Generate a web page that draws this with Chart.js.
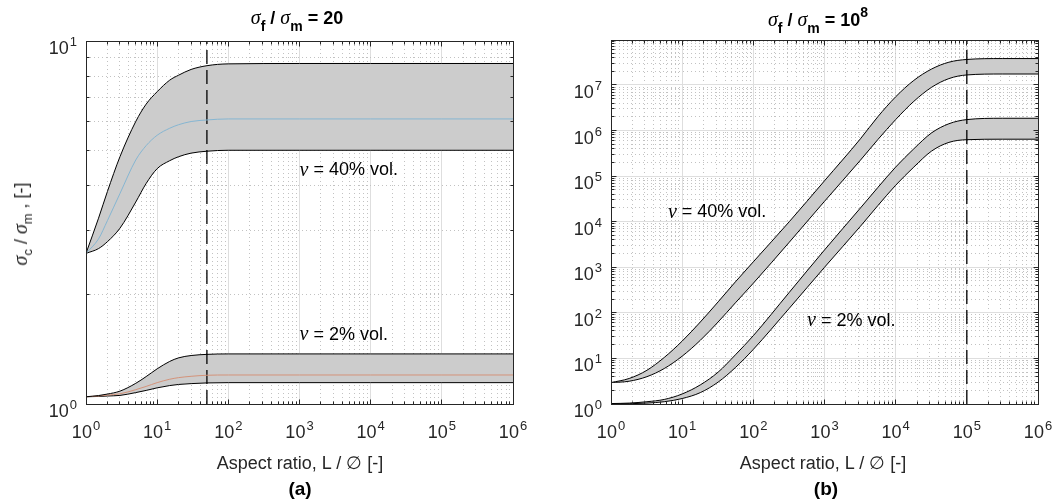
<!DOCTYPE html>
<html>
<head>
<meta charset="utf-8">
<script src="https://cdn.jsdelivr.net/npm/chart.js@4.4.1/dist/chart.umd.min.js"></script>
<style>
html,body{margin:0;padding:0;background:#fff;}
#wrap{position:relative;width:1060px;height:502px;overflow:hidden;font-family:"Liberation Sans",Arial,sans-serif;color:#262626;}
canvas{position:absolute;top:0;}
.lbl{position:absolute;white-space:nowrap;transform:translate(-50%,-50%);line-height:1;}
.title{font-weight:bold;font-size:18px;color:#000;}
.sg{font-family:"Liberation Serif","DejaVu Serif",serif;font-style:italic;font-weight:normal;font-size:20px;}
.title sub{font-size:14px;vertical-align:-7px;}
.title sup{font-size:14px;vertical-align:9px;}
.axl{font-size:18px;}
.axl sub{font-size:13px;vertical-align:-5px;}
.yl{transform:translate(-50%,-50%) rotate(-90deg);}
.pl{font-weight:bold;font-size:19px;color:#000;}
</style>
</head>
<body>
<div id="wrap">
  <canvas id="ca" width="530" height="502" style="left:0;width:530px;height:502px"></canvas>
  <canvas id="cb" width="530" height="502" style="left:530px;width:530px;height:502px"></canvas>
  <div class="lbl title" style="left:297px;top:20px"><span class="sg">σ</span><sub>f</sub> / <span class="sg">σ</span><sub>m</sub> = 20</div>
  <div class="lbl title" style="left:818px;top:20px"><span class="sg">σ</span><sub>f</sub> / <span class="sg">σ</span><sub>m</sub> = 10<sup>8</sup></div>
  <div class="lbl axl yl" style="left:22px;top:224px"><span class="sg">σ</span><sub>c</sub> / <span class="sg">σ</span><sub>m</sub> , [-]</div>
  <div class="lbl axl" style="left:300px;top:463px">Aspect ratio, L / ∅ [-]</div>
  <div class="lbl axl" style="left:823px;top:463px">Aspect ratio, L / ∅ [-]</div>
  <div class="lbl pl" style="left:300px;top:488px">(a)</div>
  <div class="lbl pl" style="left:826px;top:488px">(b)</div>
</div>
<script>
// ---------- tick labels (base and exponent) ----------
const xMajor = [1, 10, 100, 1e3, 1e4, 1e5, 1e6];
const xMajorExp = ['0', '1', '2', '3', '4', '5', '6'];
const yMajorA = [1, 10];
const yMajorExpA = ['0', '1'];
const yMajorB = [1, 10, 100, 1e3, 1e4, 1e5, 1e6, 1e7];
const yMajorExpB = ['0', '1', '2', '3', '4', '5', '6', '7'];
const tickBase = '10';
const minorMult = [2, 3, 4, 5, 6, 7, 8, 9];

// ---------- (a) sigma_f / sigma_m = 20 ----------
const aspectA  = [1, 1.5, 2, 3, 5, 7, 10, 15, 20, 30, 50, 100, 1e3, 1e4, 1e5, 1e6];
const a40Upper = [2.6, 3.25, 3.85, 4.8, 6.0, 6.7, 7.25, 7.8, 8.05, 8.35, 8.55, 8.65, 8.67, 8.67, 8.67, 8.67];
const a40Mid   = [2.6, 2.85, 3.2, 3.8, 4.7, 5.15, 5.5, 5.75, 5.88, 6.0, 6.06, 6.1, 6.1, 6.1, 6.1, 6.1];
const a40Lower = [2.6, 2.68, 2.8, 3.05, 3.6, 4.05, 4.45, 4.68, 4.8, 4.91, 4.97, 5.0, 5.0, 5.0, 5.0, 5.0];
const a2Upper  = [1.047, 1.055, 1.065, 1.085, 1.14, 1.19, 1.25, 1.31, 1.34, 1.36, 1.37, 1.374, 1.374, 1.374, 1.374, 1.374];
const a2Mid    = [1.047, 1.052, 1.058, 1.067, 1.095, 1.118, 1.145, 1.17, 1.182, 1.192, 1.2, 1.202, 1.202, 1.202, 1.202, 1.202];
const a2Lower  = [1.047, 1.049, 1.052, 1.056, 1.075, 1.09, 1.108, 1.124, 1.132, 1.138, 1.143, 1.145, 1.145, 1.145, 1.145, 1.145];
const dashXA = 50;
const yRangeA = [1, 10];

// ---------- (b) sigma_f / sigma_m = 1e8 ----------
const aspectB  = [1, 1.8, 3.2, 5.6, 10, 18, 32, 56, 100, 320, 1e3, 3200, 5600, 1e4, 1.8e4, 3.2e4, 5.6e4, 1e5, 3.2e5, 1e6];
const b40Upper = [2.95, 3.63, 5.5, 10.5, 24, 63, 174, 479, 1318, 1e4, 7.9e4, 6.6e5, 2.0e6, 5.5e6, 1.26e7, 2.24e7, 3.16e7, 3.63e7, 3.8e7, 3.8e7];
const b40Lower = [2.95, 3.16, 3.98, 6.0, 11.2, 25, 63, 166, 447, 3548, 2.8e4, 2.24e5, 6.3e5, 1.74e6, 4.37e6, 8.9e6, 1.38e7, 1.66e7, 1.74e7, 1.74e7];
const b2Upper  = [1.023, 1.047, 1.122, 1.259, 1.66, 2.63, 5.0, 12, 31.6, 282, 2399, 2.0e4, 5.6e4, 1.58e5, 3.98e5, 8.9e5, 1.41e6, 1.74e6, 1.86e6, 1.86e6];
const b2Lower  = [1.0, 1.012, 1.047, 1.122, 1.318, 1.778, 3.02, 6.31, 15.8, 126, 1000, 7943, 2.24e4, 6.3e4, 1.58e5, 3.55e5, 5.5e5, 6.3e5, 6.46e5, 6.46e5];
const dashXB = 1e5;
const yRangeB = [1, 9.7e7];

// ---------- in-plot notes ----------
const notesA = [{x: 1000, y: 4.4, text: ' = 40% vol.'}, {x: 1000, y: 1.55, text: ' = 2% vol.'}];
const notesB = [{x: 6.3, y: 1.6e4, text: ' = 40% vol.'}, {x: 568, y: 66, text: ' = 2% vol.'}];

// ---------- styling ----------
const GRAY = '#cccccc';
const INK = '#262626';
const SANS = '"Liberation Sans", Arial, sans-serif';
Chart.defaults.font.family = SANS;
Chart.defaults.color = INK;

function withMinor(majors, max) {
  const out = [];
  majors.forEach(m => {
    out.push(m);
    minorMult.forEach(k => { if (m * k <= max) out.push(m * k); });
  });
  return out.filter(v => v <= max);
}
function pts(xs, ys) { return xs.map((x, i) => ({x: x, y: ys[i]})); }

function logAxis(min, max, majors, o) {
  const all = withMinor(majors, max);
  return {
    type: 'logarithmic', min: min, max: max,
    afterBuildTicks: s => { s.ticks = all.map(v => ({value: v})); },
    afterFit: s => { if (o.w != null) s.width = o.w; if (o.h != null) s.height = o.h; },
    ticks: {display: false, autoSkip: false},
    grid: {
      drawTicks: false, lineWidth: 1,
      color: c => (c.tick && majors.indexOf(c.tick.value) < 0) ? '#c2c2c2' : '#dedede'
    },
    border: {
      display: false,
      dash: c => (c.tick && majors.indexOf(c.tick.value) < 0) ? [1, 3] : []
    }
  };
}

function align(p) { return Math.round(p - 0.5) + 0.5; }

function powLabel(ctx, exp, x, y, anchor) {
  ctx.font = '18px ' + SANS;
  const w1 = ctx.measureText(tickBase).width;
  ctx.font = '13px ' + SANS;
  const w2 = ctx.measureText(exp).width + 1;
  const total = w1 + w2;
  const x0 = anchor === 'center' ? x - total / 2 : x - total;
  ctx.textAlign = 'left'; ctx.textBaseline = 'alphabetic';
  ctx.font = '18px ' + SANS;
  ctx.fillText(tickBase, x0, y);
  ctx.font = '13px ' + SANS;
  ctx.fillText(exp, x0 + w1 + 1, y - 8);
}

const boxPlugin = {
  id: 'boxTicks',
  afterDraw(chart, args, opts) {
    const ctx = chart.ctx, a = chart.chartArea, xs = chart.scales.x, ys = chart.scales.y;
    const L = align(a.left), R = align(a.right), T = align(a.top), B = align(a.bottom);
    ctx.save();
    ctx.strokeStyle = INK; ctx.lineWidth = 1; ctx.setLineDash([]);
    ctx.beginPath();
    xs.ticks.forEach(t => {
      const p = align(xs.getPixelForValue(t.value));
      const len = opts.xMajor.indexOf(t.value) >= 0 ? 5 : 3;
      ctx.moveTo(p, B); ctx.lineTo(p, B - len);
      ctx.moveTo(p, T); ctx.lineTo(p, T + len);
    });
    ys.ticks.forEach(t => {
      const p = align(ys.getPixelForValue(t.value));
      const len = opts.yMajor.indexOf(t.value) >= 0 ? 5 : 3;
      ctx.moveTo(L, p); ctx.lineTo(L + len, p);
      ctx.moveTo(R, p); ctx.lineTo(R - len, p);
    });
    ctx.stroke();
    ctx.strokeRect(L, T, R - L, B - T);
    // tick labels
    ctx.fillStyle = INK;
    opts.xMajor.forEach((v, i) => powLabel(ctx, opts.xExp[i], xs.getPixelForValue(v), a.bottom + 34, 'center'));
    opts.yMajor.forEach((v, i) => powLabel(ctx, opts.yExp[i], a.left - 9, ys.getPixelForValue(v) + 13, 'right'));
    // notes
    (opts.notes || []).forEach(n => {
      const px = xs.getPixelForValue(n.x), py = ys.getPixelForValue(n.y);
      ctx.fillStyle = '#000';
      ctx.textBaseline = 'middle'; ctx.textAlign = 'left';
      ctx.font = 'italic 20px "Liberation Serif", "DejaVu Serif", serif';
      ctx.fillText('ν', px, py);
      const w = ctx.measureText('ν').width;
      ctx.font = '18px ' + SANS;
      ctx.fillText(n.text, px + w, py);
    });
    ctx.restore();
  }
};

function edge(data, color, fillTarget) {
  const d = {data: data, borderColor: color, borderWidth: 1, pointRadius: 0,
    cubicInterpolationMode: 'monotone', fill: false};
  if (fillTarget != null) { d.fill = {target: fillTarget}; d.backgroundColor = GRAY; }
  return d;
}
function dashed(x, yr) {
  return {data: [{x: x, y: yr[0]}, {x: x, y: yr[1]}], borderColor: '#000', borderWidth: 1.3,
    borderDash: [14, 6], pointRadius: 0, tension: 0, fill: false};
}

function makeChart(id, datasets, yMin, yMax, yMajor, yExp, padLeft, padRight, padTop, notes) {
  return new Chart(document.getElementById(id), {
    type: 'line',
    data: {datasets: datasets},
    options: {
      responsive: false, animation: false, devicePixelRatio: 1,
      layout: {padding: {left: padLeft, right: padRight, top: padTop, bottom: 58}},
      scales: {
        x: logAxis(1, 1e6, xMajor, {h: 40}),
        y: logAxis(yMin, yMax, yMajor, {w: 60})
      },
      plugins: {
        legend: {display: false}, tooltip: {enabled: false},
        filler: {drawTime: 'beforeDatasetsDraw'},
        boxTicks: {xMajor: xMajor, xExp: xMajorExp, yMajor: yMajor, yExp: yExp, notes: notes}
      }
    },
    plugins: [boxPlugin]
  });
}

makeChart('ca', [
  edge(pts(aspectA, a40Upper), '#000', 2),
  edge(pts(aspectA, a40Mid), '#86b6d2'),
  edge(pts(aspectA, a40Lower), '#000'),
  edge(pts(aspectA, a2Upper), '#000', 5),
  edge(pts(aspectA, a2Mid), '#d4937a'),
  edge(pts(aspectA, a2Lower), '#000'),
  dashed(dashXA, yRangeA)
], yRangeA[0], yRangeA[1], yMajorA, yMajorExpA, 26, 17, 41, notesA);

makeChart('cb', [
  edge(pts(aspectB, b40Upper), '#000', 1),
  edge(pts(aspectB, b40Lower), '#000'),
  edge(pts(aspectB, b2Upper), '#000', 3),
  edge(pts(aspectB, b2Lower), '#000'),
  dashed(dashXB, yRangeB)
], yRangeB[0], yRangeB[1], yMajorB, yMajorExpB, 21, 22, 40, notesB);
</script>
</body>
</html>
